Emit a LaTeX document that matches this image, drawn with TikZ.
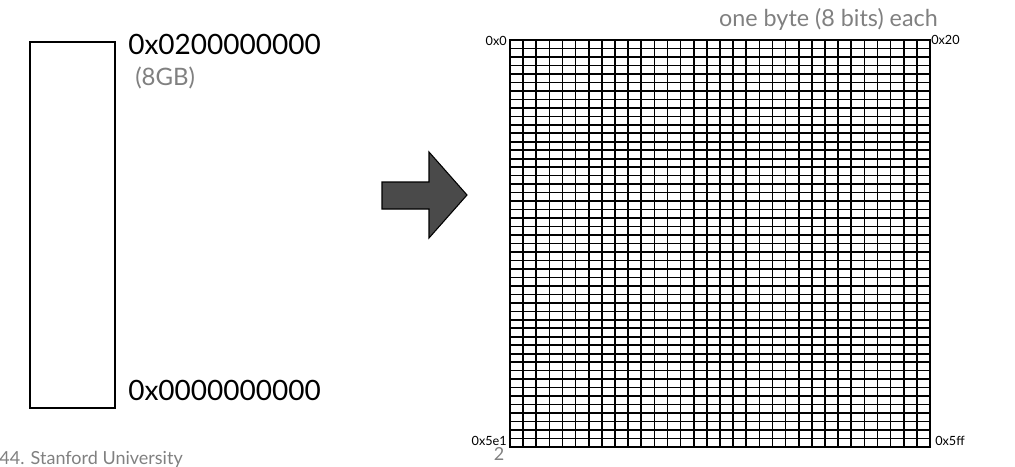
\documentclass[tikz,border=0pt]{standalone}
\usepackage{fontspec}
\setmainfont{Lato}
\usepackage{tikz}
\usetikzlibrary{arrows.meta}
\usetikzlibrary{calc}

\definecolor{labelgray}{HTML}{808080}
\definecolor{arrowgray}{HTML}{4A4A4A}

\begin{document}
\begin{tikzpicture}[x=0.75pt, y=-0.75pt, inner sep=0pt,
        addr_style/.style={font=\fontsize{21}{21}\selectfont, text=black},
        note_style/.style={font=\fontsize{17.5}{18}\selectfont, text=labelgray},
        corner_style/.style={font=\fontsize{9.5}{10}\selectfont, text=black},
        footer_style/.style={font=\fontsize{13.5}{14}\selectfont, text=labelgray},
        mem_style/.style={draw=black, line width=0.8pt},
        cell_style/.style={draw=black, line width=1.2pt, line cap=rect},
        arrow_style/.style={draw=black, line width=0.8pt, fill=arrowgray}]

        \useasboundingbox (0,0) rectangle (1015,467);

        % the whole memory as one box
        \draw [mem_style] (30,42) rectangle (115,408);

        \node [addr_style, anchor=base west] (top_addr) at (128,55) {0x0200000000};
        \node [note_style, anchor=base west, font=\fontsize{18}{18}\selectfont] (size_lbl) at (135,86) {(8GB)};
        \node [addr_style, anchor=base west] (bottom_addr) at (128,400) {0x0000000000};

        % big arrow
        \draw [arrow_style] (382,182) -- (429,182) -- (429,152) -- (467,195)
            -- (429,238) -- (429,209) -- (382,209) -- cycle;

        % 32 x 48 bytes
        \foreach \c in {0,...,32}
            \draw [cell_style] ({510+\c*13.125},40) -- ({510+\c*13.125},447);
        \foreach \r in {0,...,48}
            \draw [cell_style] (510,{40+\r*8.479}) -- (930,{40+\r*8.479});

        \node [note_style, anchor=base east] (bytes_lbl) at (938,27) {one byte (8 bits) each};
        \node [corner_style, anchor=base east] (first_lbl) at (507,46) {0x0};
        \node [corner_style, anchor=base west] (row_lbl) at (931,45) {0x20};
        \node [corner_style, anchor=base east] (lastrow_lbl) at (507,445) {0x5e1};
        \node [corner_style, anchor=base west] (last_lbl) at (935,445) {0x5ff};

        \node [footer_style, anchor=base] (page_lbl) at (499,460) {2};
        \node [footer_style, anchor=base east] (footer_lbl) at (183,464) {44. Stanford University};

\end{tikzpicture}
\end{document}
